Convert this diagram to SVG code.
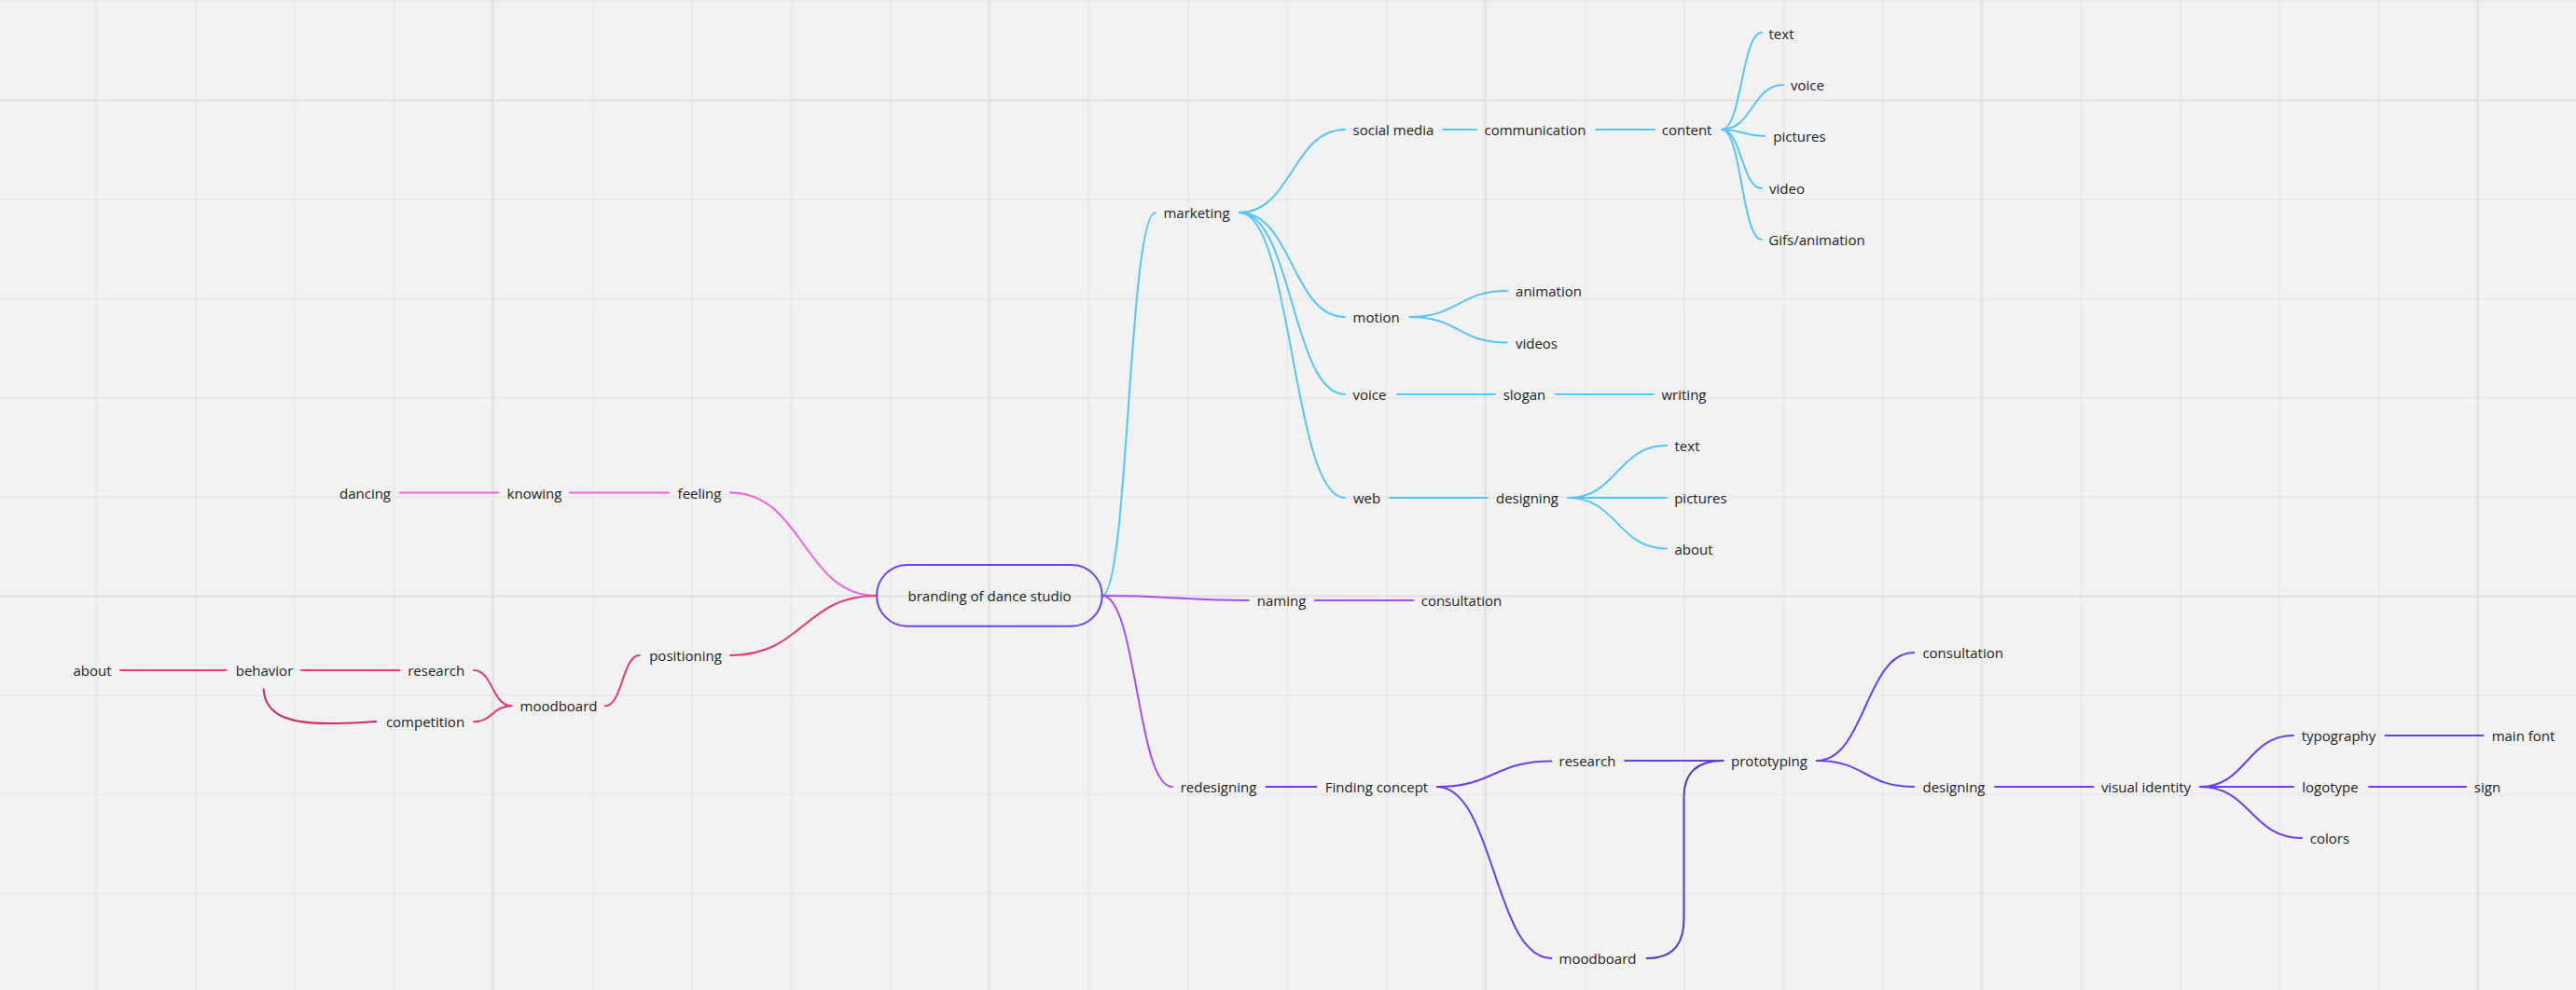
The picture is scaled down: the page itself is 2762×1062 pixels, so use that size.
<svg xmlns="http://www.w3.org/2000/svg" width="2762" height="1062" viewBox="0 0 2762 1062">
<style>
text{font-family:"Open Sans","Liberation Sans",sans-serif;font-size:15px;fill:#222;text-anchor:middle}
.c{fill:none;stroke-width:2;stroke-linecap:round}
.blue{stroke:#56c5f8}
.pink{stroke:#ef5fe3}
.crim{stroke:#e63b74}
.crim2{stroke:#cc2a66}
.purp{stroke:#a64ff5}
.vio{stroke:#6b3ef3}
.vio2{stroke:#5a38c9}
</style>
<defs>
<pattern id="grid" x="102.6" y="0.2" width="106.4" height="106.4" patternUnits="userSpaceOnUse">
<path d="M1 0V106.4M0 1H106.4" stroke="#e7e7e7" stroke-width="1.4" fill="none"/>
</pattern>
<pattern id="grid5" x="527.6" y="106.6" width="532" height="532" patternUnits="userSpaceOnUse">
<path d="M1 0V532M0 1H532" stroke="#e1e1e1" stroke-width="2" fill="none"/>
</pattern>
</defs>
<rect width="2762" height="1062" fill="#f2f2f2"/>
<rect width="2762" height="1062" fill="url(#grid)"/>
<rect width="2762" height="1062" fill="url(#grid5)"/>

<g id="connectors">
<path class="c blue" d="M1181.7 639C1210 639 1210 228 1239 228"/>
<path class="c blue" d="M1329 228C1385.5 228 1385.5 139 1442 139"/>
<path class="c blue" d="M1329 228C1385.5 228 1385.5 340 1442 340"/>
<path class="c blue" d="M1329 228C1385.5 228 1385.5 423 1442 423"/>
<path class="c blue" d="M1329 228C1385.5 228 1385.5 534 1442 534"/>
<path class="c blue" d="M1547 139H1583"/>
<path class="c blue" d="M1711 139H1774"/>
<path class="c blue" d="M1846 139C1867.5 139 1867.5 35 1889 35"/>
<path class="c blue" d="M1846 139C1879 139 1879 91 1912 91"/>
<path class="c blue" d="M1846 139C1869 139 1869 146 1892 146"/>
<path class="c blue" d="M1846 139C1867.5 139 1867.5 202 1889 202"/>
<path class="c blue" d="M1846 139C1867.5 139 1867.5 257 1889 257"/>
<path class="c blue" d="M1511.6 340C1564 340 1564 312 1616 312"/>
<path class="c blue" d="M1511.6 340C1564 340 1564 367.5 1616 367.5"/>
<path class="c blue" d="M1498 423H1603"/>
<path class="c blue" d="M1668 423H1773"/>
<path class="c blue" d="M1490 534H1595"/>
<path class="c blue" d="M1681.5 534C1734 534 1734 478 1787 478"/>
<path class="c blue" d="M1681.5 534H1787"/>
<path class="c blue" d="M1681.5 534C1734 534 1734 588.5 1787 588.5"/>

<path class="c purp" d="M1181.7 639C1260 639 1260 644 1339 644"/>
<path class="c purp" d="M1181.7 639C1219 639 1219 844 1257 844"/>
<path class="c purp" d="M1410 644H1515.6"/>

<path class="c vio" d="M1357.5 844H1411.5"/>
<path class="c vio" d="M1540.7 844C1602 844 1602 816.5 1663.5 816.5"/>
<path class="c vio" d="M1540.7 844C1602 844 1602 1028 1663.5 1028"/>
<path class="c vio" d="M1742 816H1847.6"/>
<path class="c vio2" d="M1765.7 1028C1798 1028 1805.5 1008 1805.5 985L1805.5 855C1805.5 830 1818 816 1847.6 816"/>
<path class="c vio" d="M1948 816C2000 816 2000 700 2052 700"/>
<path class="c vio" d="M1948 816C2000 816 2000 844 2052 844"/>
<path class="c vio" d="M2139 844H2244.5"/>
<path class="c vio" d="M2359 844C2409 844 2409 789 2459 789"/>
<path class="c vio" d="M2359 844H2459"/>
<path class="c vio" d="M2359 844C2413.5 844 2413.5 899 2468 899"/>
<path class="c vio" d="M2557.5 789H2662.4"/>
<path class="c vio" d="M2540 844H2644"/>

<path class="c pink" d="M940 639C861.5 639 861.5 528.5 783 528.5"/>
<path class="c pink" d="M428.6 528.5H534"/>
<path class="c pink" d="M611 528.5H717"/>

<path class="c crim" d="M940 639C861.5 639 861.5 703 783 703"/>
<path class="c crim" d="M685.6 703C667.3 703 667.3 757.3 649 757.3"/>
<path class="c crim" d="M548.5 757.3C528 757.3 528 719 508 719"/>
<path class="c crim" d="M548.5 757.3C528 757.3 528 774.3 508 774.3"/>
<path class="c crim" d="M129 719H242.4"/>
<path class="c crim" d="M323 719H428.6"/>
<path class="c crim2" d="M282.7 739.3C284 770 315 777 360 776C380 775.6 395 774.5 403.3 774"/>
</g>

<g id="root">
<rect x="940" y="606" width="241.7" height="65.7" rx="32.8" fill="none" stroke="#6f42f0" stroke-width="2"/>
<text x="1061" y="644.5">branding of dance studio</text>
</g>

<g id="n-marketing"><text x="1283" y="233.5">marketing</text></g>
<g id="n-social-media"><text x="1494" y="144.5">social media</text></g>
<g id="n-communication"><text x="1646" y="144.5">communication</text></g>
<g id="n-content"><text x="1808.6" y="144.5">content</text></g>
<g id="n-content-text"><text x="1910" y="41.5">text</text></g>
<g id="n-content-voice"><text x="1938" y="97">voice</text></g>
<g id="n-content-pictures"><text x="1929.5" y="152">pictures</text></g>
<g id="n-content-video"><text x="1916" y="208">video</text></g>
<g id="n-content-gifs"><text x="1948" y="263">Gifs/animation</text></g>
<g id="n-motion"><text x="1475.7" y="346">motion</text></g>
<g id="n-animation"><text x="1660.5" y="318">animation</text></g>
<g id="n-videos"><text x="1647.5" y="373.5">videos</text></g>
<g id="n-voice"><text x="1468.5" y="429">voice</text></g>
<g id="n-slogan"><text x="1634.5" y="429">slogan</text></g>
<g id="n-writing"><text x="1805.5" y="429">writing</text></g>
<g id="n-web"><text x="1465.5" y="540">web</text></g>
<g id="n-web-designing"><text x="1637.5" y="540">designing</text></g>
<g id="n-web-text"><text x="1809" y="484">text</text></g>
<g id="n-web-pictures"><text x="1823.4" y="540">pictures</text></g>
<g id="n-web-about"><text x="1816" y="594.5">about</text></g>

<g id="n-naming"><text x="1374" y="650">naming</text></g>
<g id="n-naming-consultation"><text x="1567" y="650">consultation</text></g>
<g id="n-redesigning"><text x="1306.5" y="850">redesigning</text></g>
<g id="n-finding-concept"><text x="1476" y="850">Finding concept</text></g>
<g id="n-fc-research"><text x="1702" y="821.5">research</text></g>
<g id="n-fc-moodboard"><text x="1713" y="1033.5">moodboard</text></g>
<g id="n-prototyping"><text x="1897" y="822">prototyping</text></g>
<g id="n-proto-consultation"><text x="2104.7" y="706">consultation</text></g>
<g id="n-proto-designing"><text x="2095" y="850">designing</text></g>
<g id="n-visual-identity"><text x="2301" y="850">visual identity</text></g>
<g id="n-typography"><text x="2507.5" y="795">typography</text></g>
<g id="n-main-font"><text x="2705.5" y="795">main font</text></g>
<g id="n-logotype"><text x="2498.5" y="850">logotype</text></g>
<g id="n-sign"><text x="2667" y="850">sign</text></g>
<g id="n-colors"><text x="2498" y="905">colors</text></g>

<g id="n-feeling"><text x="750" y="534.5">feeling</text></g>
<g id="n-knowing"><text x="573" y="534.5">knowing</text></g>
<g id="n-dancing"><text x="391.5" y="534.5">dancing</text></g>
<g id="n-positioning"><text x="735" y="708.5">positioning</text></g>
<g id="n-moodboard"><text x="599" y="763">moodboard</text></g>
<g id="n-research"><text x="467.7" y="724.5">research</text></g>
<g id="n-competition"><text x="456" y="780">competition</text></g>
<g id="n-behavior"><text x="283.5" y="724.5">behavior</text></g>
<g id="n-about"><text x="99" y="724.5">about</text></g>
</svg>
